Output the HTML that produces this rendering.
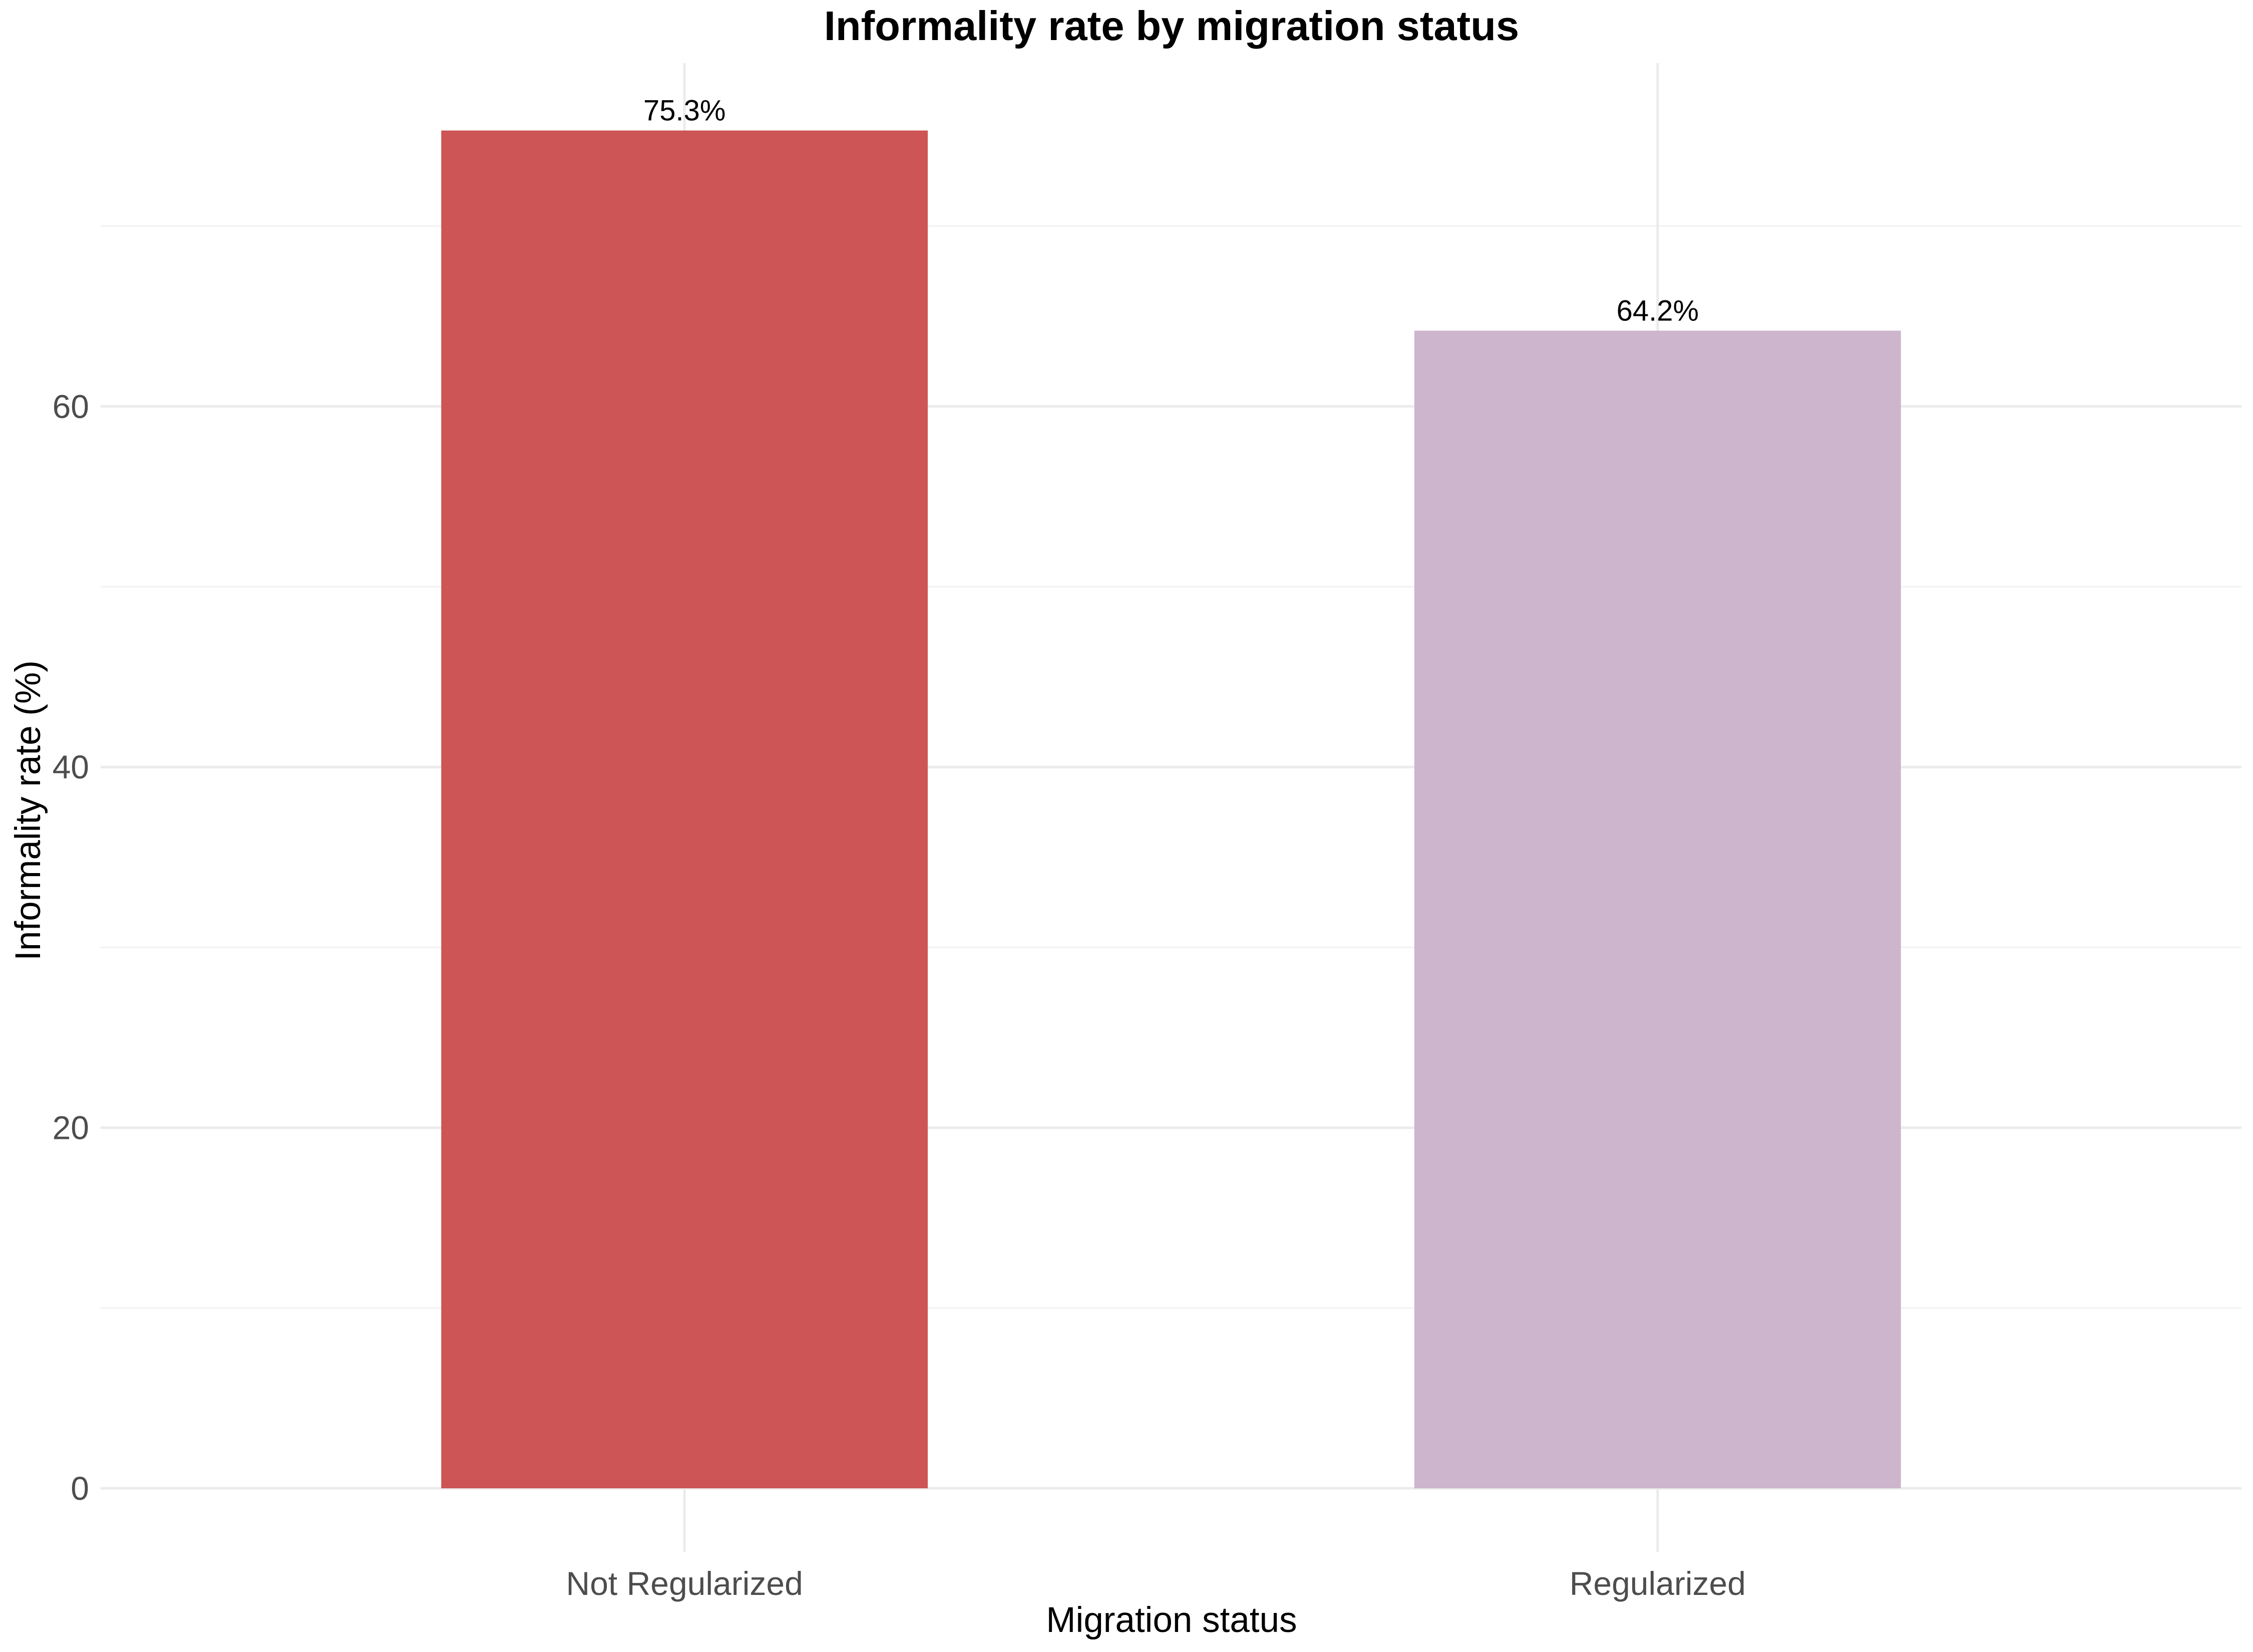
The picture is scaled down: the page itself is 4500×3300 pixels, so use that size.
<!DOCTYPE html>
<html><head><meta charset="utf-8"><style>
html,body{margin:0;padding:0;background:#fff}
svg{display:block;font-family:"Liberation Sans",sans-serif}
</style></head><body>
<svg id="chart" width="4500" height="3300" viewBox="0 0 4500 3300" xmlns="http://www.w3.org/2000/svg">
<rect width="4500" height="3300" fill="#fff"/>
<g id="grid"></g>
<g id="bars"></g>
<g id="labels"></g>
<g id="yticks"></g>
<g id="xticks"></g>
<text x="2340" y="80" text-anchor="middle" font-size="83" font-weight="bold" fill="#000">Informality rate by migration status</text>
<text x="2340" y="3260" text-anchor="middle" font-size="71" fill="#000">Migration status</text>
<text transform="translate(80,1619) rotate(-90)" text-anchor="middle" font-size="71" fill="#000">Informality rate (%)</text>
</svg>
<script>
const categories = ["Not Regularized", "Regularized"];
const values = [75.3, 64.2];
const valueLabels = ["75.3%", "64.2%"];
const colors = ["#cd5555", "#cdb5cd"];
const majorTicks = [0, 20, 40, 60];
const minorTicks = [10, 30, 50, 70];

const NS = "http://www.w3.org/2000/svg";
const pLeft = 201, pRight = 4477, pTop = 126, y0 = 2973, perUnit = 36.02;
const yScale = v => y0 - v * perUnit;
const step = (pRight - pLeft) / (categories.length - 1 + 1.2);
const xScale = i => pLeft + step * (0.6 + i);
const barW = step * 0.5;
function mk(tag, attrs, parent){const e=document.createElementNS(NS,tag);for(const k in attrs)e.setAttribute(k,attrs[k]);document.getElementById(parent).appendChild(e);return e;}

minorTicks.forEach(v=>{
  const l=mk("line",{x1:pLeft,x2:pRight,y1:yScale(v),y2:yScale(v),stroke:"#f2f2f2","stroke-width":3},"grid");
  
  
});
majorTicks.forEach(v=>{
  const l=mk("line",{x1:pLeft,x2:pRight,y1:yScale(v),y2:yScale(v),stroke:"#ebebeb","stroke-width":5},"grid");
  
  
  const t=mk("text",{x:178,y:yScale(v)+23,"text-anchor":"end","font-size":66,fill:"#4d4d4d"},"yticks");
  t.textContent=v;
  
  
});
categories.forEach((c,i)=>{
  const cx=xScale(i);
  const g=mk("line",{x1:cx,x2:cx,y1:pTop,y2:3100,stroke:"#ebebeb","stroke-width":5},"grid");
  
  
  const r=mk("rect",{x:cx-barW/2,y:yScale(values[i]),width:barW,height:y0-yScale(values[i]),fill:colors[i]},"bars");
  
  
  const lb=mk("text",{x:cx,y:yScale(values[i])-20,"text-anchor":"middle","font-size":58,fill:"#000"},"labels");
  lb.textContent=valueLabels[i];
  
  
  const xt=mk("text",{x:cx,y:3186,"text-anchor":"middle","font-size":66,fill:"#4d4d4d"},"xticks");
  xt.textContent=c;
  
  
});
</script>
</body></html>
